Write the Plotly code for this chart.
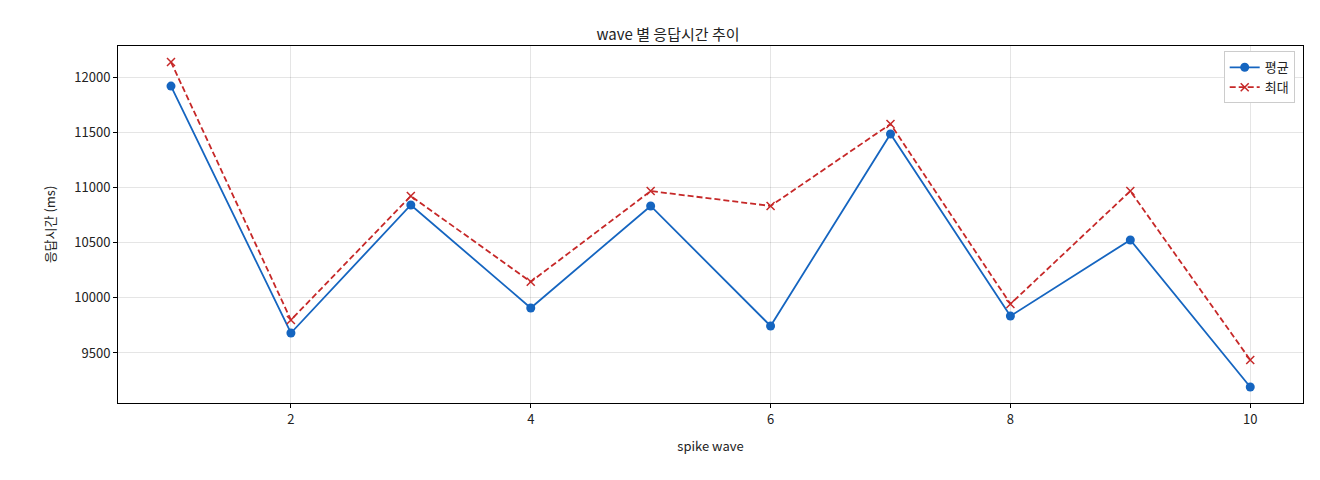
import plotly.graph_objects as go

waves = [1, 2, 3, 4, 5, 6, 7, 8, 9, 10]
avg_ms = [11918, 9681, 10841, 9908, 10832, 9745, 11484, 9835, 10524, 9192]
max_ms = [12136, 9799, 10922, 10145, 10967, 10832, 11574, 9944, 10967, 9437]

fig = go.Figure()
fig.add_trace(go.Scatter(x=waves, y=avg_ms, name="평균", mode="lines+markers",
                         line=dict(color="#1565c0", width=1.8),
                         marker=dict(symbol="circle", size=9, color="#1565c0")))
fig.add_trace(go.Scatter(x=waves, y=max_ms, name="최대", mode="lines+markers",
                         line=dict(color="#c62828", width=1.8, dash="6px,3px"),
                         marker=dict(symbol="x-thin", size=8, line=dict(color="#c62828", width=1.5))))

axis_common = dict(showline=True, linecolor="black", mirror=True, ticks="outside",
                   ticklen=4, tickcolor="black", gridcolor="rgba(0,0,0,0.1)",
                   zeroline=False, tickfont=dict(size=13, color="#222"))
fig.update_layout(
    width=1320, height=480,
    font=dict(family="Noto Sans CJK KR, DejaVu Sans", color="#222"),
    plot_bgcolor="white", paper_bgcolor="white",
    margin=dict(l=110, r=25, t=38, b=85),
    title=dict(text="wave 별 응답시간 추이", x=0.5, xanchor="center", y=0.955, font=dict(size=15)),
    xaxis=dict(title=dict(text="spike wave", font=dict(size=13)), range=[0.558, 10.44],
               tickvals=[2, 4, 6, 8, 10], **axis_common),
    yaxis=dict(title=dict(text="응답시간 (ms)", font=dict(size=13)), range=[9047, 12281],
               tickvals=[9500, 10000, 10500, 11000, 11500, 12000], tickformat="d", **axis_common),
    legend=dict(x=0.993, y=0.985, xanchor="right", yanchor="top", bgcolor="white",
                bordercolor="#ccc", borderwidth=1, font=dict(size=13)),
)
fig.write_html("out.html")
